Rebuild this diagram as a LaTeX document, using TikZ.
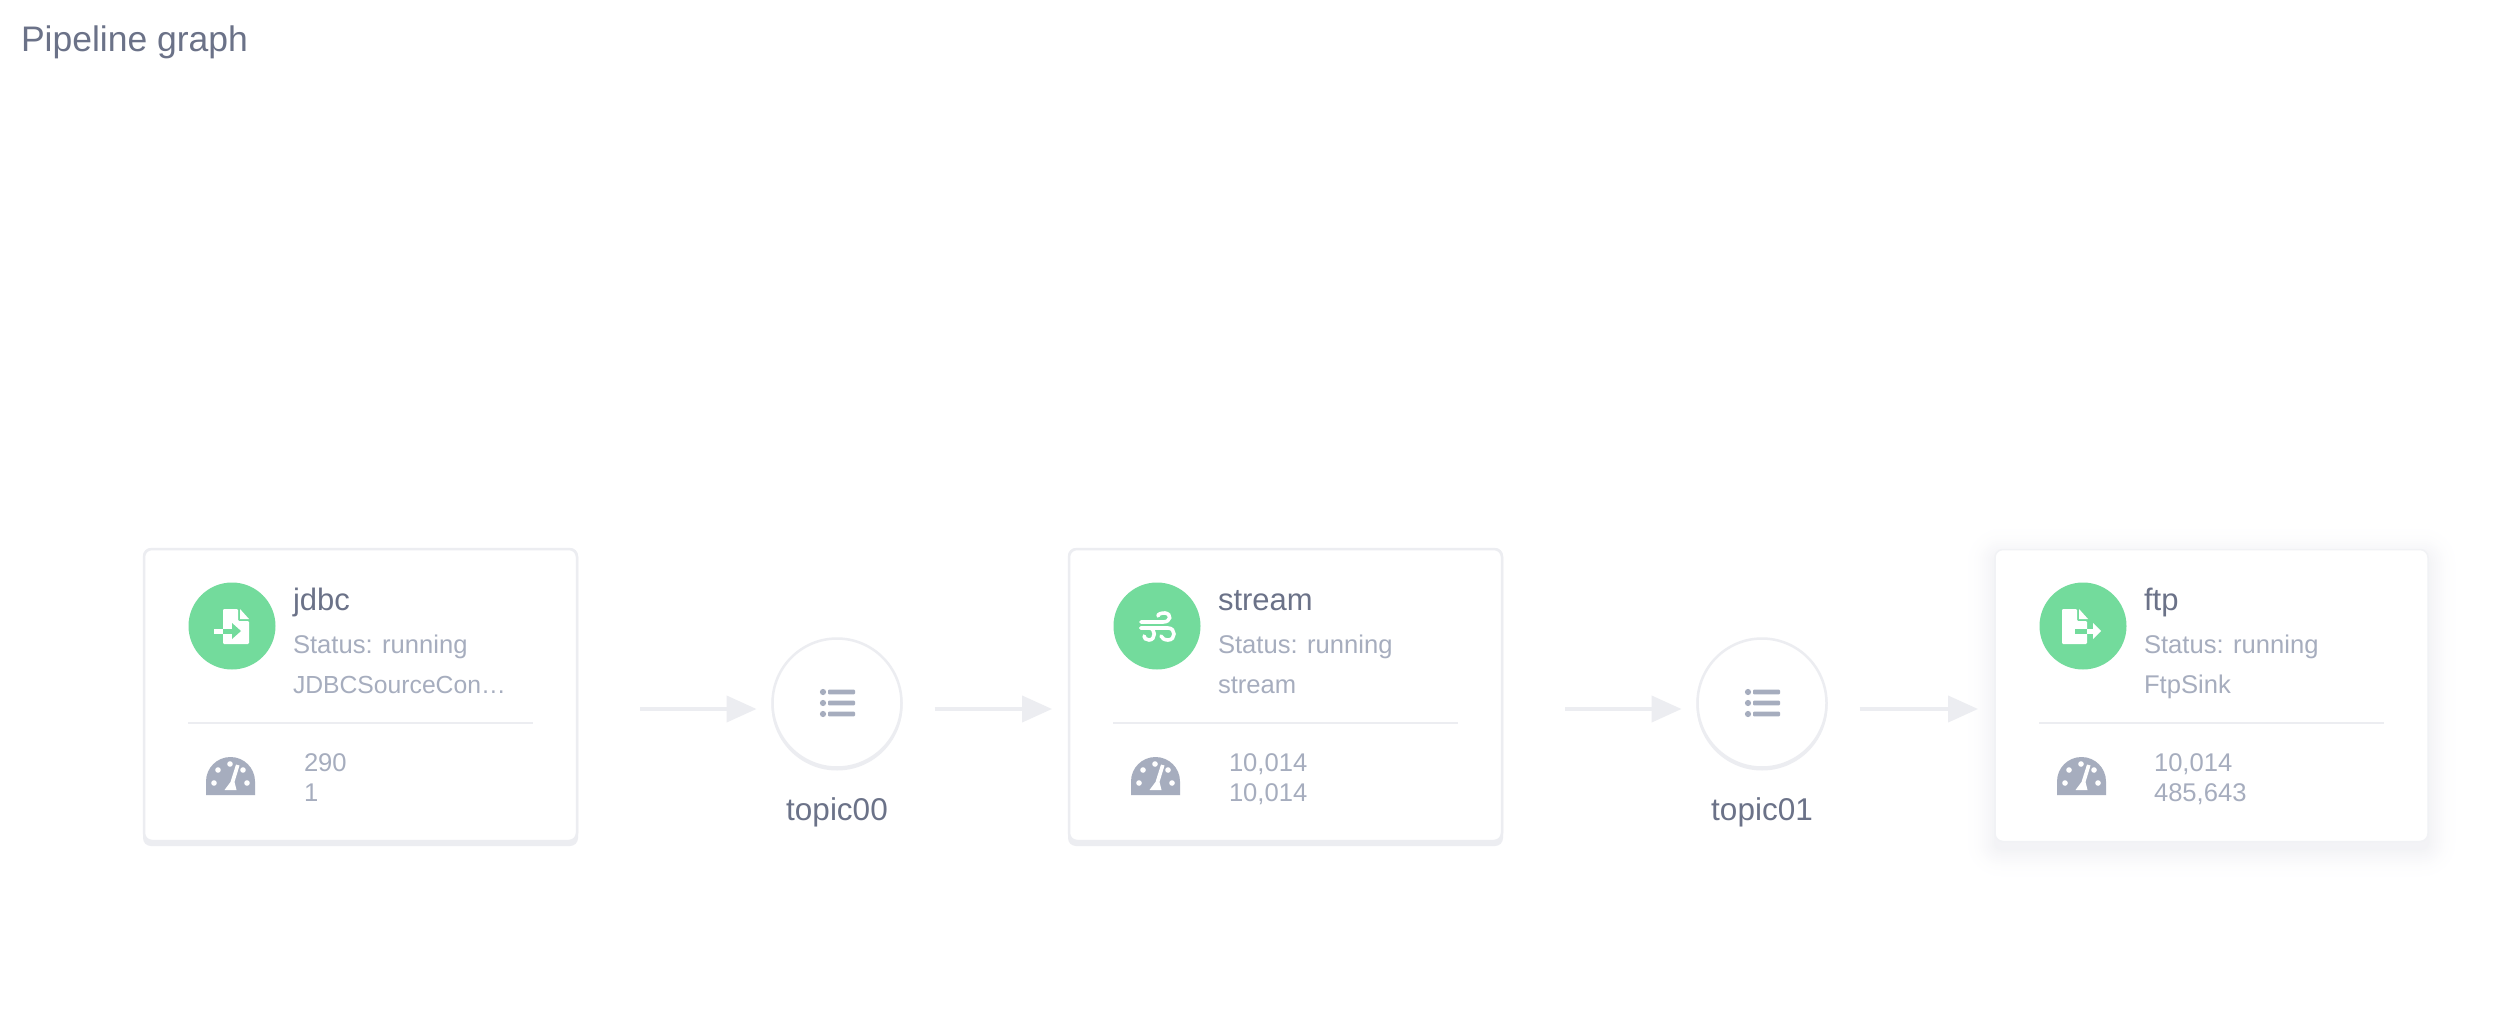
\documentclass[tikz,border=0pt]{standalone}
\usepackage{fontspec}
\setmainfont{Liberation Sans}
\usetikzlibrary{arrows.meta,calc}
\definecolor{bordergray}{HTML}{ECEDF1}
\definecolor{softgray}{HTML}{F1F2F5}
\definecolor{mutedtext}{HTML}{A6ADBE}
\definecolor{darktext}{HTML}{6B7288}
\definecolor{statusgreen}{HTML}{73DB9C}
\tikzset{
  x=1pt,y=-1pt,
  cardbox/.style={draw=bordergray,line width=2.5pt,fill=white,rounded corners=8pt,minimum width=433pt,minimum height=292pt,inner sep=0pt,outer sep=0pt,shape=rectangle},
  cardplain/.style={cardbox,draw=softgray,line width=1.5pt},
  topicbox/.style={circle,draw=bordergray,line width=2.5pt,fill=white,minimum size=129pt,inner sep=0pt,outer sep=0pt},
  iconbadge/.style={circle,fill=statusgreen,minimum size=87pt,inner sep=0pt},
  txt/.style={anchor=base west,inner sep=0pt,outer sep=0pt},
  nametxt/.style={txt,text=darktext,font=\fontsize{31}{33}\selectfont},
  subtxt/.style={txt,text=mutedtext,font=\fontsize{25.6}{28}\selectfont},
  numtxt/.style={txt,text=mutedtext,font=\fontsize{25.6}{28}\selectfont},
  toplabel/.style={anchor=base,inner sep=0pt,text=darktext,font=\fontsize{31.5}{33}\selectfont},
  divider/.style={draw=bordergray,line width=2pt},
  flow/.style={draw=bordergray,line width=4pt,-{Triangle[length=30pt,width=26pt]}},
}
\newcommand{\cardinner}[8]{%
  % #1 id, #2 x shift, #3 name, #4 sub, #5 n1, #6 n2, #7 #8 number x
  \begin{scope}[shift={(#2,0)}]
    \node[iconbadge] (badge#1) at (232,626) {};
    \node[nametxt] (name#1) at (293,610.5) {#3};
    \node[subtxt] (status#1) at (293,653) {Status: running};
    \node[subtxt] (kind#1) at (293,693) {#4};
    \draw[divider] (188,723) coordinate (ruleL#1) -- (533,723) coordinate (ruleR#1);
    \fill[mutedtext] (206,795) -- (206,781.5) arc[start angle=180,end angle=360,radius=24.5] -- (255,795) -- cycle;
    \fill[white] (218,770) circle (2.8) (230,764) circle (2.8) (243,770) circle (2.8) (214,783) circle (2.8) (247,783) circle (2.8);
    \fill[white] (236,764.5) -- (239.5,765.5) -- (234.5,782) -- (236.5,790) -- (224.5,790) -- (230.5,782) -- cycle;
    \node[numtxt] (numa#1) at (#7,771) {#5};
    \node[numtxt] (numb#1) at (#8,801) {#6};
  \end{scope}}
\newcommand{\topicitem}[3]{%
  \fill[bordergray] ($(#2)+(0,2)$) circle (65.5);
  \node[topicbox] (#1) at (#2) {};
  \node[toplabel] (label#1) at ($(#2)+(0,117)$) {#3};
  \fill[mutedtext] ($(#2)+(-14,-11)$) circle (3.1) ($(#2)+(-14,0)$) circle (3.1) ($(#2)+(-14,11)$) circle (3.1);
  \foreach \dy in {-11,0,11} {\fill[mutedtext,rounded corners=1pt] ($(#2)+(-9,\dy-2.4)$) rectangle ($(#2)+(18,\dy+2.4)$);}}
\begin{document}
\begin{tikzpicture}
\useasboundingbox (0,0) rectangle (2498,1027);
\fill[white] (0,0) rectangle (2498,1027);
\node[txt,text=darktext,font=\fontsize{35.5}{38}\selectfont] (title) at (21,52) {Pipeline graph};

% card 3 soft shadow: opaque rings, light outside to darker inside
\foreach \i in {15,14,...,0} {
  \pgfmathsetmacro{\g}{2*\i}
  \pgfmathsetmacro{\p}{65*(1-\i/16)*(1-\i/16)}
  \fill[bordergray!\p!white,rounded corners=8+\g] (1994-\g,548+7-\g) rectangle (2429+\g,843+7+\g);
}
% card underlays
\fill[bordergray,rounded corners=8pt] (143,548) rectangle (578,846);
\fill[bordergray,rounded corners=8pt] (1068,548) rectangle (1503,846);

\node[cardbox] (card1) at (360.5,695) {};
\node[cardbox] (card2) at (1285.5,695) {};
\node[cardplain] (card3) at (2211.5,695.5) {};

\cardinner{1}{0}{jdbc}{{\fontsize{24.7}{28}\selectfont JDBCSourceCon…}}{290}{1}{304}{304}
\cardinner{2}{925}{stream}{stream}{10,014}{10,014}{304}{304}
\cardinner{3}{1851}{ftp}{FtpSink}{10,014}{485,643}{303}{303}

\topicitem{topic0}{837,703}{topic00}
\topicitem{topic1}{1762,703}{topic01}

% connectors
\path[flow] ($(card1.east)+(63,14)$) -- ($(topic0.west)+(-16,6)$);
\path[flow] ($(topic0.east)+(33,6)$) -- ($(card2.west)+(-17,14)$);
\path[flow] ($(card2.east)+(63,14)$) -- ($(topic1.west)+(-16,6)$);
\path[flow] ($(topic1.east)+(33,6)$) -- ($(card3.west)+(-17,13.5)$);

% jdbc icon: file import
\fill[white,rounded corners=1.2pt] (223,609) -- (238,609) -- (238,621) -- (249,621) -- (249,644) -- (223,644) -- cycle;
\fill[white] (240,609) -- (249,619) -- (240,619) -- cycle;
\fill[white] (214,629) rectangle (223,633.5);
\fill[statusgreen] (223,629) rectangle (232,633.5);
\fill[statusgreen] (232,623) -- (241,631) -- (232,639) -- cycle;

% stream icon: wind
\begin{scope}[shift={(925,0)}]
\draw[white,line width=3.6pt,line cap=round] (216,622) -- (238,622) .. controls (246,622) and (247,614) .. (240,613) .. controls (236,613) and (233,614) .. (233,616);
\draw[white,line width=3.6pt,line cap=round] (216,628) -- (243,628) .. controls (251,628) and (251,640) .. (243,640) .. controls (239,640) and (237,638) .. (236,636);
\draw[white,line width=3.6pt,line cap=round] (216,628) -- (224,628) .. controls (231,628) and (231,640) .. (224,640) .. controls (221,640) and (219,638) .. (219,636);
\end{scope}

% ftp icon: file export
\fill[white,rounded corners=1.2pt] (2062,609) -- (2077,609) -- (2077,621) -- (2087,621) -- (2087,644) -- (2062,644) -- cycle;
\fill[white] (2079,609) -- (2088,619) -- (2079,619) -- cycle;
\fill[statusgreen] (2075,629) rectangle (2087,633.5);
\fill[white] (2087,629) rectangle (2093,633.5);
\fill[white] (2093,623) -- (2101,631) -- (2093,639) -- cycle;
\end{tikzpicture}
\end{document}
